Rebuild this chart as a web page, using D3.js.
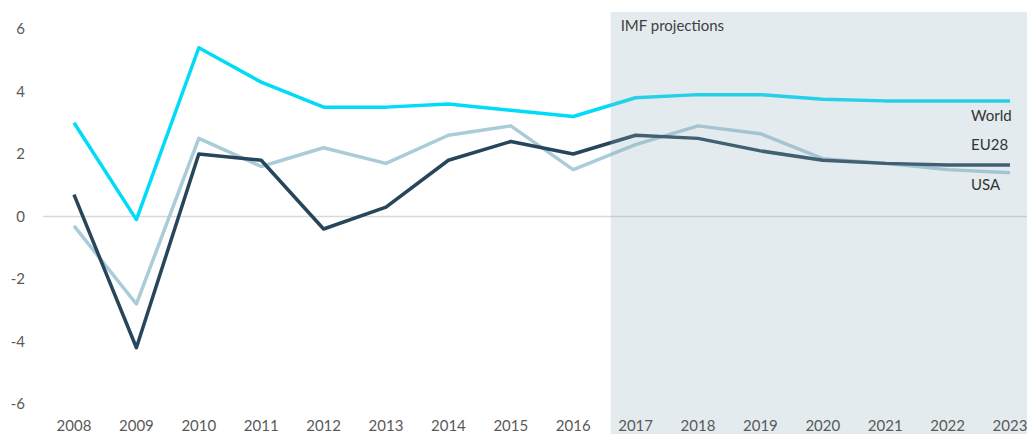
<!DOCTYPE html>
<html>
<head>
<meta charset="utf-8">
<script src="https://cdn.jsdelivr.net/npm/d3@7"></script>
<style>
  body { margin: 0; background: #fff; }
  text { font-family: "Lato", "Open Sans", sans-serif; }
</style>
</head>
<body>
<div id="chart"></div>
<script>
var width = 1027,
    height = 434;

// data
var years = [2008, 2009, 2010, 2011, 2012, 2013, 2014, 2015, 2016, 2017, 2018, 2019, 2020, 2021, 2022, 2023];
var world = [3.0, -0.1, 5.4, 4.3, 3.5, 3.5, 3.6, 3.4, 3.2, 3.8, 3.9, 3.9, 3.75, 3.7, 3.7, 3.7];
var eu28 = [0.7, -4.2, 2.0, 1.8, -0.4, 0.3, 1.8, 2.4, 2.0, 2.6, 2.5, 2.1, 1.8, 1.7, 1.65, 1.65];
var usa = [-0.3, -2.8, 2.5, 1.6, 2.2, 1.7, 2.6, 2.9, 1.5, 2.3, 2.9, 2.65, 1.85, 1.7, 1.5, 1.4];
var yTicks = [-6, -4, -2, 0, 2, 4, 6];
var projectionStart = 2016.6;

var series = [
  { name: "USA", values: usa, color: "#a9ccd8" },
  { name: "EU28", values: eu28, color: "#27465b" },
  { name: "World", values: world, color: "#00dcf7" }
];

var x = d3.scaleLinear()
    .domain([2008, 2023])
    .range([74, 1010]);

var y = d3.scaleLinear()
    .domain([-6, 6])
    .range([404, 29]);

var svg = d3.select("#chart").append("svg")
    .attr("width", width)
    .attr("height", height);

// zero line
svg.append("line")
    .attr("x1", 43)
    .attr("x2", width)
    .attr("y1", y(0))
    .attr("y2", y(0))
    .style("stroke", "#d9d9d9")
    .style("stroke-width", 1.5);

var line = d3.line()
    .x(function(d, i) { return x(years[i]); })
    .y(function(d) { return y(d); });

svg.selectAll("path.series")
    .data(series)
    .join("path")
    .attr("class", "series")
    .attr("d", function(d) { return line(d.values); })
    .style("fill", "none")
    .style("stroke", function(d) { return d.color; })
    .style("stroke-width", 3.5)
    .style("stroke-linejoin", "round");

// projection shading sits over the lines, semi transparent
svg.append("rect")
    .attr("x", x(projectionStart))
    .attr("y", 12)
    .attr("width", width - x(projectionStart))
    .attr("height", height - 12)
    .style("fill", "#8fafbb")
    .style("opacity", 0.25);

svg.append("text")
    .attr("x", x(projectionStart) + 10)
    .attr("y", 31)
    .style("font-size", "15px")
    .style("fill", "#404040")
    .text("IMF projections");

// y axis labels
svg.selectAll("text.ytick")
    .data(yTicks)
    .join("text")
    .attr("class", "ytick")
    .attr("x", 25)
    .attr("y", function(d) { return y(d); })
    .attr("dy", "0.35em")
    .style("text-anchor", "end")
    .style("font-size", "15px")
    .style("fill", "#595959")
    .text(function(d) { return d; });

// x axis labels
svg.selectAll("text.xtick")
    .data(years)
    .join("text")
    .attr("class", "xtick")
    .attr("x", function(d) { return x(d); })
    .attr("y", 431)
    .style("text-anchor", "middle")
    .style("font-size", "15px")
    .style("fill", "#595959")
    .text(function(d) { return d; });

// series labels at the right
var labelY = { "World": 121, "EU28": 150, "USA": 190 };
svg.selectAll("text.slabel")
    .data(series)
    .join("text")
    .attr("class", "slabel")
    .attr("x", 971)
    .attr("y", function(d) { return labelY[d.name]; })
    .style("font-size", "15px")
    .style("fill", "#333333")
    .text(function(d) { return d.name; });
</script>
</body>
</html>
